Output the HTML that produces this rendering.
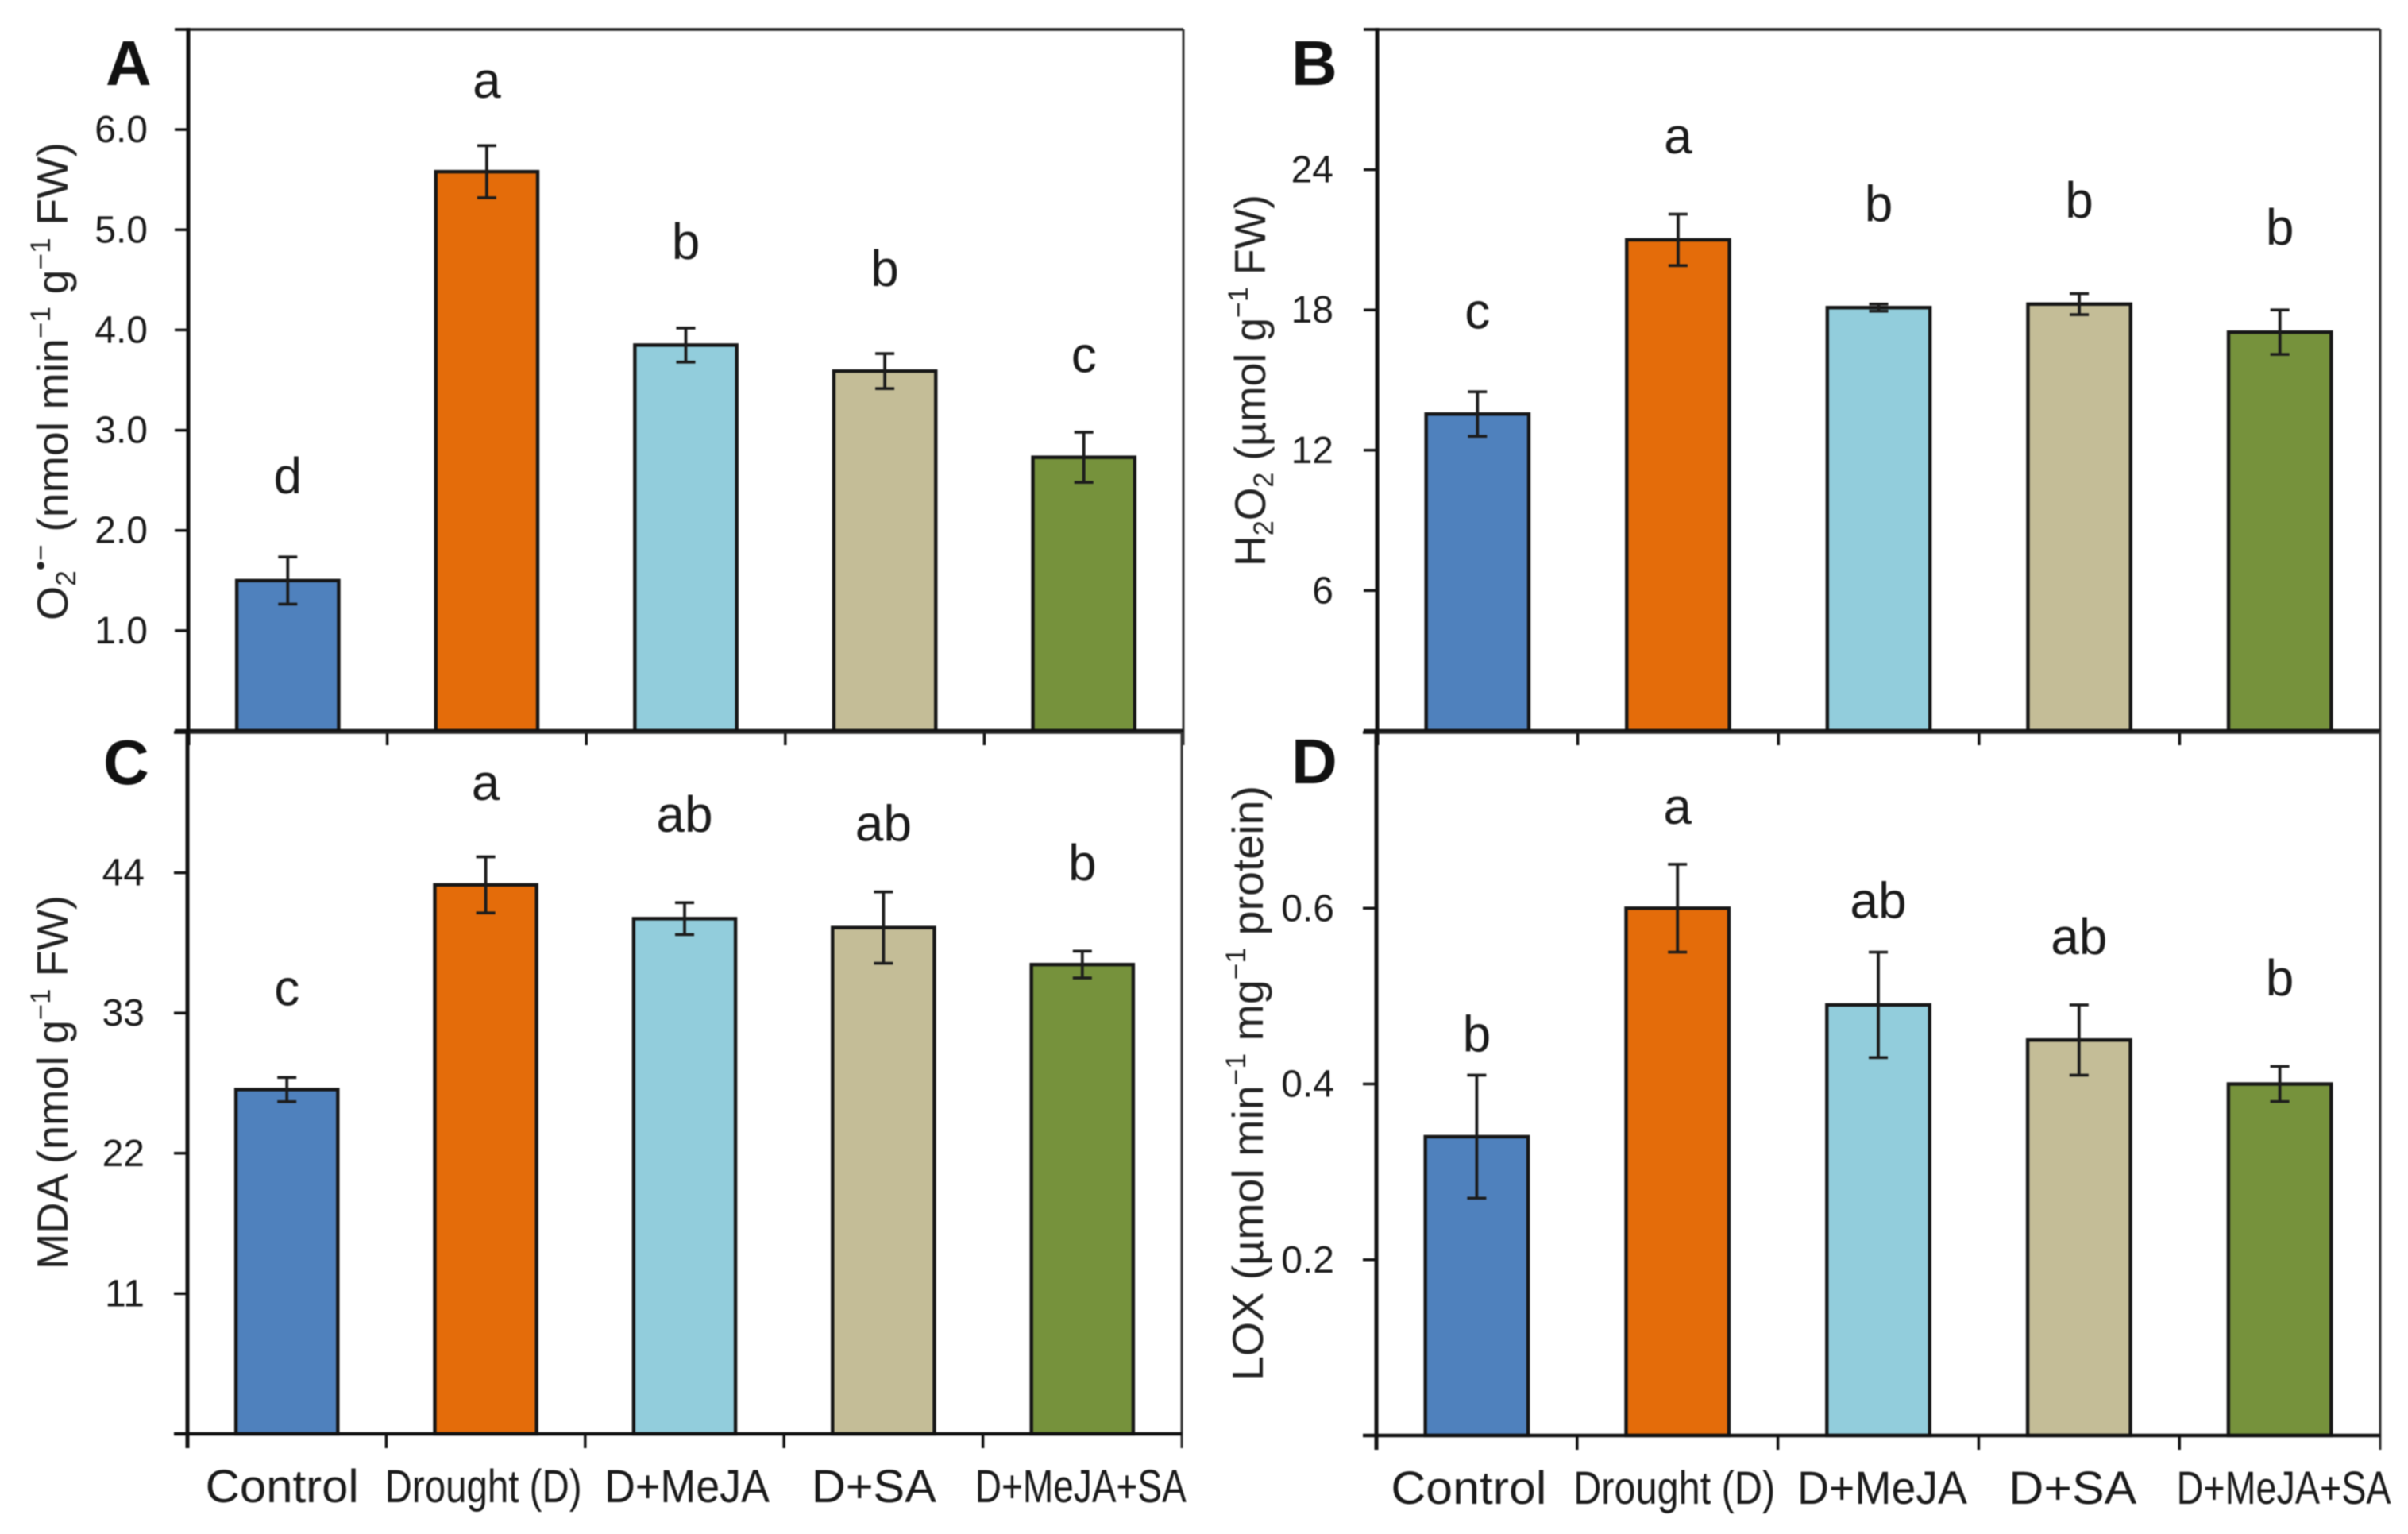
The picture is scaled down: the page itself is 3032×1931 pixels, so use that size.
<!DOCTYPE html>
<html lang="en">
<head>
<meta charset="utf-8">
<title>Oxidative stress markers under drought with MeJA and SA</title>
<style>
  html,body{margin:0;padding:0;background:#fff;}
  body{width:3032px;height:1931px;overflow:hidden;}
  #figure{position:absolute;left:0;top:0;filter:blur(0.7px);}
  text{font-family:"Liberation Sans",Arial,sans-serif;fill:#1a1a1a;}
  .panel-letter{font-weight:700;font-size:80px;fill:#111;}
  .y-title{font-size:55px;fill:#222;}
</style>
</head>
<body>
<svg id="figure" xmlns="http://www.w3.org/2000/svg" width="3032" height="1931" viewBox="0 0 3032 1931">
  <rect x="0" y="0" width="3032" height="1931" fill="#ffffff"/>

  <text class="panel-letter" x="133" y="107">A</text>
  <text class="panel-letter" x="1626" y="107">B</text>
  <text class="panel-letter" x="130" y="987">C</text>
  <text class="panel-letter" x="1626" y="986">D</text>

  <text class="y-title" transform="translate(85,781) rotate(-90)" textLength="602" lengthAdjust="spacingAndGlyphs">O<tspan font-size="35" dy="10">2</tspan><tspan font-size="35" dy="-32">•−</tspan><tspan dy="22"> (nmol min</tspan><tspan font-size="35" dy="-22">−1</tspan><tspan dy="22"> g</tspan><tspan font-size="35" dy="-22">−1</tspan><tspan dy="22"> FW)</tspan></text>

  <text class="y-title" transform="translate(1593,713) rotate(-90)" textLength="468" lengthAdjust="spacingAndGlyphs">H<tspan font-size="35" dy="10">2</tspan><tspan dy="-10">O</tspan><tspan font-size="35" dy="10">2</tspan><tspan dy="-10"> (µmol g</tspan><tspan font-size="35" dy="-22">−1</tspan><tspan dy="22"> FW)</tspan></text>

  <text class="y-title" transform="translate(85,1598) rotate(-90)" textLength="471" lengthAdjust="spacingAndGlyphs">MDA (nmol g<tspan font-size="35" dy="-22">−1</tspan><tspan dy="22"> FW)</tspan></text>

  <text class="y-title" transform="translate(1590,1738) rotate(-90)" textLength="749" lengthAdjust="spacingAndGlyphs">LOX (µmol min<tspan font-size="35" dy="-22">−1</tspan><tspan dy="22"> mg</tspan><tspan font-size="35" dy="-22">−1</tspan><tspan dy="22"> protein)</tspan></text>
</svg>

<script>
const categories = ['Control', 'Drought (D)', 'D+MeJA', 'D+SA', 'D+MeJA+SA'];
const barColors = ['#4F81BD', '#E46C0A', '#92CDDC', '#C4BD97', '#76923C'];

const valuesA = [1.50, 5.58, 3.85, 3.59, 2.73];
const errorsA = [0.235, 0.26, 0.17, 0.175, 0.25];
const lettersA = ['d', 'a', 'b', 'b', 'c'];
const letterLevelsA = [2.37, 6.32, 4.71, 4.44, 3.58];
const tickValuesA = [0, 1, 2, 3, 4, 5, 6, 7];
const tickLabelsA = ['', '1.0', '2.0', '3.0', '4.0', '5.0', '6.0', ''];

const valuesB = [13.55, 21.0, 18.1, 18.25, 17.05];
const errorsB = [0.95, 1.1, 0.15, 0.45, 0.95];
const lettersB = ['c', 'a', 'b', 'b', 'b'];
const letterLevelsB = [17.2, 24.7, 21.8, 21.95, 20.8];
const tickValuesB = [0, 6, 12, 18, 24, 30];
const tickLabelsB = ['', '6', '12', '18', '24', ''];

const valuesC = [27.0, 43.05, 40.4, 39.7, 36.8];
const errorsC = [0.95, 2.2, 1.25, 2.8, 1.05];
const lettersC = ['c', 'a', 'ab', 'ab', 'b'];
const letterLevelsC = [33.6, 49.7, 47.2, 46.5, 43.4];
const tickValuesC = [0, 11, 22, 33, 44, 55];
const tickLabelsC = ['', '11', '22', '33', '44', ''];

const valuesD = [0.34, 0.60, 0.49, 0.45, 0.40];
const errorsD = [0.07, 0.05, 0.06, 0.04, 0.02];
const lettersD = ['b', 'a', 'ab', 'ab', 'b'];
const letterLevelsD = [0.437, 0.696, 0.589, 0.548, 0.501];
const tickValuesD = [0, 0.2, 0.4, 0.6, 0.8];
const tickLabelsD = ['', '0.2', '0.4', '0.6', ''];

const svg = document.getElementById('figure');
const NS = 'http://www.w3.org/2000/svg';

function make(tag, attrs, parent) {
  const node = document.createElementNS(NS, tag);
  for (const key in attrs) node.setAttribute(key, attrs[key]);
  parent.appendChild(node);
  return node;
}

function drawPanel(id, frame, values, errors, letters, levels, tickValues, tickLabels) {
  const group = make('g', {}, svg);
  
  

  const yMax = tickValues[tickValues.length - 1];
  const yScale = v => frame.bottom - (v / yMax) * (frame.bottom - frame.top);
  const step = (frame.right - frame.left) / categories.length;
  const xCenter = i => frame.left + step * (i + 0.5);
  const barWidth = step * 0.512;

  // bars
  values.forEach((v, i) => {
    const bar = make('rect', {
      x: xCenter(i) - barWidth / 2, y: yScale(v), width: barWidth, height: frame.bottom - yScale(v),
      fill: barColors[i], stroke: '#161616', 'stroke-width': 4.4
    }, group);
    
    
  });

  // error bars
  values.forEach((v, i) => {
    const cx = xCenter(i);
    const hi = yScale(v + errors[i]);
    const lo = yScale(v - errors[i]);
    const stem = make('line', {x1: cx, x2: cx, y1: hi, y2: lo, stroke: '#1c1c1c', 'stroke-width': 3.8}, group);
    
    
    const capTop = make('line', {x1: cx - 12, x2: cx + 12, y1: hi, y2: hi, stroke: '#1c1c1c', 'stroke-width': 3.6}, group);
    
    
    const capLow = make('line', {x1: cx - 12, x2: cx + 12, y1: lo, y2: lo, stroke: '#1c1c1c', 'stroke-width': 3.6}, group);
    
    
  });

  // significance letters
  letters.forEach((s, i) => {
    const t = make('text', {x: xCenter(i), y: yScale(levels[i]), 'text-anchor': 'middle', 'font-size': 64}, group);
    t.textContent = s;
    
    
  });

  // frame
  const topLine = make('line', {x1: frame.left - 17, x2: frame.right, y1: frame.top, y2: frame.top, stroke: '#222', 'stroke-width': 3.5}, group);
  
  
  const rightLine = make('line', {x1: frame.right, x2: frame.right, y1: frame.top, y2: frame.bottom + 18, stroke: '#333', 'stroke-width': 3}, group);
  
  
  const yAxis = make('line', {x1: frame.left, x2: frame.left, y1: frame.top - 2, y2: frame.bottom + 18, stroke: '#111', 'stroke-width': 5}, group);
  
  
  const xAxis = make('line', {x1: frame.left - 17, x2: frame.right, y1: frame.bottom, y2: frame.bottom, stroke: '#111', 'stroke-width': 4.5}, group);
  
  

  // y ticks and labels
  tickValues.forEach((v, i) => {
    const y = yScale(v);
    const tick = make('line', {x1: frame.left - 17, x2: frame.left, y1: y, y2: y, stroke: '#111', 'stroke-width': 3.5}, group);
    
    
    if (tickLabels[i]) {
      const label = make('text', {x: frame.tickRight, y: y + 16, 'text-anchor': 'end', 'font-size': 48}, group);
      label.textContent = tickLabels[i];
      
      
    }
  });

  // x ticks
  categories.forEach((c, i) => {
    if (i === 0) return;
    const x = frame.left + step * i;
    const tick = make('line', {x1: x, x2: x, y1: frame.bottom, y2: frame.bottom + 18, stroke: '#111', 'stroke-width': 3.5}, group);
    
    
  });

  // x labels (only under the lower panels)
  if (frame.labelFit) {
    categories.forEach((c, i) => {
      const fit = frame.labelFit[i];
      const label = make('text', {
        x: xCenter(i) + fit[0] - fit[1] / 2, y: frame.labelY, 'font-size': 58,
        textLength: fit[1], lengthAdjust: 'spacingAndGlyphs'
      }, group);
      label.textContent = c;
      
      
    });
  }
}

drawPanel('a', {left: 237, right: 1490, top: 37, bottom: 920, tickRight: 186},
  valuesA, errorsA, lettersA, letterLevelsA, tickValuesA, tickLabelsA);
drawPanel('b', {left: 1734, right: 2997, top: 37, bottom: 920, tickRight: 1679},
  valuesB, errorsB, lettersB, letterLevelsB, tickValuesB, tickLabelsB);
drawPanel('c', {left: 236, right: 1488, top: 922, bottom: 1805, tickRight: 182, labelY: 1891,
  labelFit: [[-6, 193], [-3, 248], [3, 208], [-12, 157], [-2, 266]]},
  valuesC, errorsC, lettersC, letterLevelsC, tickValuesC, tickLabelsC);
drawPanel('d', {left: 1733, right: 2997, top: 922, bottom: 1807, tickRight: 1680, labelY: 1893,
  labelFit: [[-10, 196], [-4, 254], [5, 214], [-8, 161], [5, 270]]},
  valuesD, errorsD, lettersD, letterLevelsD, tickValuesD, tickLabelsD);
</script>
</body>
</html>
